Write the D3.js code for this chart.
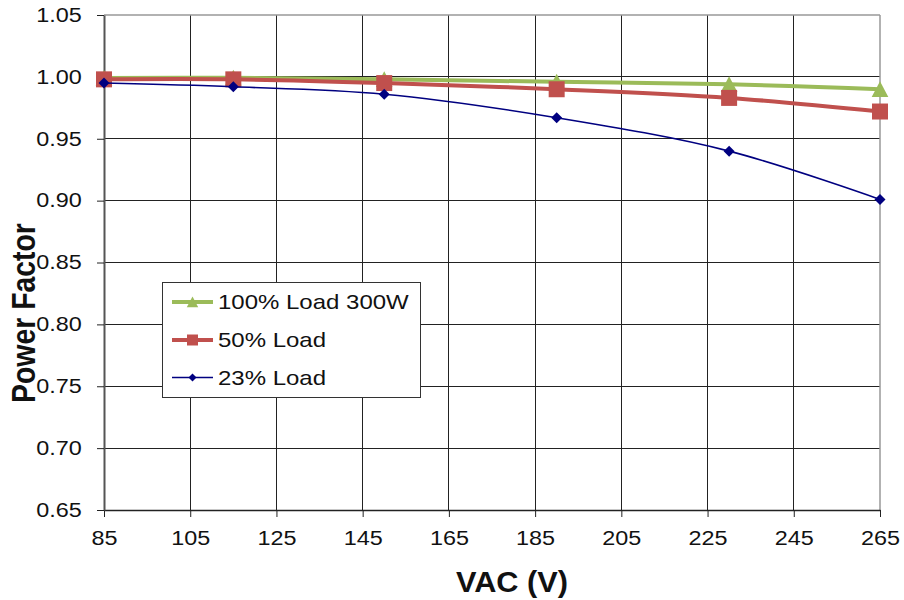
<!DOCTYPE html>
<html>
<head>
<meta charset="utf-8">
<script src="https://cdn.jsdelivr.net/npm/d3@7"></script>
<style>
  html, body { margin: 0; padding: 0; background: #fff; }
  svg { display: block; font-family: "Liberation Sans", Arial, sans-serif; }
</style>
</head>
<body>
<svg id="chart" width="904" height="600"></svg>
<script>
const vac = [85, 115, 150, 190, 230, 265];
const load100 = [0.999, 0.9993, 0.998, 0.996, 0.994, 0.990];
const load50 = [0.998, 0.998, 0.995, 0.990, 0.983, 0.972];
const load23 = [0.995, 0.992, 0.986, 0.967, 0.940, 0.901];
const seriesNames = ["100% Load 300W", "50% Load", "23% Load"];
const xTicks = [85, 105, 125, 145, 165, 185, 205, 225, 245, 265];
const yTicks = [0.65, 0.70, 0.75, 0.80, 0.85, 0.90, 0.95, 1.00, 1.05];

const svg = d3.select("#chart");
const L = 104, R = 880, T = 15, B = 510;
const SX = 1.2;

const x = d3.scaleLinear().domain([85, 265]).range([L, R]);
const y = d3.scaleLinear().domain([0.65, 1.05]).range([B, T]);

// gridlines
const grid = svg.append("g");
grid.selectAll("line.v").data(xTicks.slice(1, -1)).join("line")
  .attr("x1", d => x(d)).attr("x2", d => x(d)).attr("y1", T).attr("y2", B)
  .attr("stroke", "#222").attr("stroke-width", 1).attr("shape-rendering", "crispEdges");
grid.selectAll("line.h").data(yTicks.slice(1, -1)).join("line")
  .attr("x1", L).attr("x2", R).attr("y1", d => y(d)).attr("y2", d => y(d))
  .attr("stroke", "#222").attr("stroke-width", 1).attr("shape-rendering", "crispEdges");
// top & right border
svg.append("line").attr("x1", L).attr("x2", R).attr("y1", T).attr("y2", T)
  .attr("stroke", "#999").attr("stroke-width", 1.5);
svg.append("line").attr("x1", R).attr("x2", R).attr("y1", T).attr("y2", B)
  .attr("stroke", "#999").attr("stroke-width", 1.5);

// axes
const xAxis = svg.append("g").attr("transform", `translate(0,${B})`)
  .call(d3.axisBottom(x).tickValues(xTicks).tickFormat(d3.format("d")).tickSizeInner(7).tickSizeOuter(0));
xAxis.select(".domain").attr("stroke", "#222").attr("stroke-width", 1.5);
xAxis.selectAll(".tick line").attr("stroke", "#222");
xAxis.selectAll(".tick text").attr("y", 35).attr("dy", "0")
  .attr("font-size", 19.5).attr("fill", "#111").attr("font-family", "Liberation Sans, Arial, sans-serif")
  .attr("transform", `scale(${SX},1)`);

const yAxis = svg.append("g").attr("transform", `translate(${L},0)`)
  .call(d3.axisLeft(y).tickValues(yTicks).tickFormat(d3.format(".2f")).tickSizeInner(7).tickSizeOuter(0));
yAxis.select(".domain").attr("stroke", "#555").attr("stroke-width", 2);
yAxis.selectAll(".tick line").attr("stroke", "#222");
yAxis.selectAll(".tick text").attr("x", -22.3 / SX)
  .attr("font-size", 19.5).attr("fill", "#111").attr("font-family", "Liberation Sans, Arial, sans-serif")
  .attr("transform", `scale(${SX},1)`);

// series
const series = [
  { name: seriesNames[0], vals: load100, color: "#9BBB59", width: 4, marker: "tri" },
  { name: seriesNames[1], vals: load50, color: "#C0504D", width: 4, marker: "sq" },
  { name: seriesNames[2], vals: load23, color: "#000080", width: 1.6, marker: "dia" }
];

function markerPath(type, s) {
  if (type === "tri") return `M0,${-s * 0.5}L${s * 0.52},${s * 0.48}L${-s * 0.52},${s * 0.48}Z`;
  if (type === "sq") return `M${-s / 2},${-s / 2}h${s}v${s}h${-s}Z`;
  return `M0,${-s / 2}L${s / 2},0L0,${s / 2}L${-s / 2},0Z`;
}
const markerSize = { tri: 16, sq: 16, dia: 11 };
const legendMarkerSize = { tri: 11, sq: 11, dia: 8 };

const line = d3.line().x((d, i) => x(vac[i])).y(d => y(d)).curve(d3.curveCatmullRom.alpha(0.5));

series.forEach(s => {
  const g = svg.append("g");
  g.append("path").datum(s.vals).attr("d", line)
    .attr("fill", "none").attr("stroke", s.color).attr("stroke-width", s.width);
  g.selectAll("path.m").data(s.vals).join("path").attr("class", "m")
    .attr("transform", (d, i) => `translate(${x(vac[i])},${y(d)})`)
    .attr("d", markerPath(s.marker, markerSize[s.marker]))
    .attr("fill", s.color);
});

// legend
const lg = svg.append("g");
lg.append("rect").attr("x", 162.5).attr("y", 282.5).attr("width", 258).attr("height", 115)
  .attr("fill", "#fff").attr("stroke", "#333").attr("stroke-width", 1);
const rowsY = [302, 340, 377.5];
series.forEach((s, i) => {
  const yy = rowsY[i];
  lg.append("line").attr("x1", 172).attr("x2", 213).attr("y1", yy).attr("y2", yy)
    .attr("stroke", s.color).attr("stroke-width", s.width);
  lg.append("path").attr("transform", `translate(192.5,${yy})`)
    .attr("d", markerPath(s.marker, legendMarkerSize[s.marker])).attr("fill", s.color);
  lg.append("text").attr("transform", `translate(218,${yy + 7}) scale(${SX},1)`)
    .attr("font-size", 20).attr("fill", "#111").text(s.name);
});

// axis titles
svg.append("text").attr("transform", `translate(512,592) scale(1.06,1)`)
  .attr("text-anchor", "middle").attr("font-size", 29).attr("font-weight", "bold")
  .attr("fill", "#111").text("VAC (V)");
svg.append("text").attr("transform", `translate(35,313) scale(${1.18},1) rotate(-90)`)
  .attr("text-anchor", "middle").attr("font-size", 28.4).attr("font-weight", "bold")
  .attr("fill", "#111").text("Power Factor");
</script>
</body>
</html>
